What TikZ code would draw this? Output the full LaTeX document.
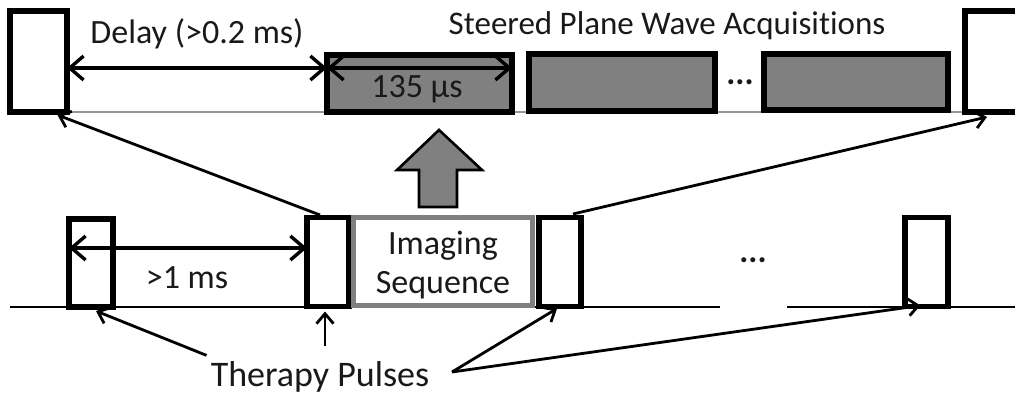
\documentclass[tikz,border=0pt]{standalone}
\usepackage{fontspec}
\setmainfont{Carlito}[Ligatures=NoCommon]
\usetikzlibrary{arrows.meta,calc}

\definecolor{acqgray}{RGB}{128,128,128}
\definecolor{linegray}{RGB}{150,150,150}

\tikzset{
  pulse/.style={draw=black, line width=5.2pt, fill=white, inner sep=0pt, outer sep=0pt},
  acq/.style={draw=black, line width=5.2pt, fill=acqgray, inner sep=0pt, outer sep=0pt},
  imgbox/.style={draw=acqgray, line width=5.2pt, fill=white, inner sep=0pt, outer sep=0pt},
  dim/.style={line width=3.4pt, {Straight Barb[length=14pt,width=24pt,line width=3.4pt]}-{Straight Barb[length=14pt,width=24pt,line width=3.4pt]}},
  pointer/.style={line width=2.8pt, -{Straight Barb[length=10pt,width=17pt,line width=2.8pt]}},
  lbl/.style={inner sep=0pt, align=center, font=\fontsize{34}{40}\selectfont, text=black!90},
}

\begin{document}
\begin{tikzpicture}[x=1pt, y=-1pt]
\useasboundingbox (0,0) rectangle (1015,396);
\clip (0,0) rectangle (1015,396);

% ---- upper time line: one imaging sequence in detail ----
\draw[linegray, line width=2.2pt] (67,112) -- (1015,112);
\node[pulse, minimum width=57pt, minimum height=101pt] (t1) at (38.5,61.5) {};
\node[pulse, minimum width=80pt, minimum height=101pt] (t2) at (1005,61.5) {};
\node[acq, minimum width=185pt, minimum height=57pt] (g1) at (419.5,83.5) {};
\node[acq, minimum width=186pt, minimum height=57pt] (g2) at (622,82.5) {};
\node[acq, minimum width=184pt, minimum height=56pt] (g3) at (856,82) {};
\node[lbl] (dotsup) at (740,82) {\textbf{...}};

\node[lbl] (delaytxt) at (197,34) {Delay (>0.2 ms)};
\node[lbl, font=\fontsize{33}{40}\selectfont] (acqtxt) at (667,26) {Steered Plane Wave Acquisitions};
\node[lbl] (dur) at (417,89) {135 µs};

\draw[dim] (t1.east |- 0,68) -- (g1.west |- 0,68);
\draw[dim] (g1.west |- 0,68) -- (g1.east |- 0,68);

% ---- lower time line: therapy pulses ----
\draw[black, line width=2.4pt] (10,307) -- (720,307);
\draw[black, line width=2.4pt] (787,307) -- (1015,307);
\node[pulse, minimum width=44pt, minimum height=88pt] (pa) at (91,263) {};
\node[pulse, minimum width=42pt, minimum height=89pt] (pb) at (328,262) {};
\node[imgbox, minimum width=179pt, minimum height=88pt] (img) at (443,261.5) {};
\node[lbl] (imgtxt) at (443,265) {Imaging\\[-1pt]Sequence};
\node[pulse, minimum width=42pt, minimum height=89pt] (pc) at (560,262) {};
\node[pulse, minimum width=43pt, minimum height=89pt] (pd) at (926.5,262) {};
\node[lbl] (dotslow) at (753,260) {\textbf{...}};

\draw[dim] (pa.west |- 0,248) -- (pb.west |- 0,248);
\node[lbl] (gaptxt) at (187,278) {>1 ms};

% ---- imaging sequence expanded above ----
\draw[black, line width=2.6pt, fill=acqgray]
  (419,207) -- (419,170) -- (397,170) -- (439,130) -- (482,170) -- (457,170) -- (457,207) -- cycle;

\coordinate (fanL) at (320,215);
\coordinate (fanR) at (573,214);
\draw[pointer] (fanL) -- ($(t1.south)+(19,3)$);
\draw[pointer] (fanR) -- ($(t2.south west)+(22,5)$);

% ---- therapy pulse labels ----
\node[lbl, font=\fontsize{36}{42}\selectfont] (ther) at (320,377) {Therapy Pulses};
\coordinate (therR) at (452,372);
\draw[pointer] ($(ther.north west)+(-4,-6)$) -- ($(pa.south)+(5,4)$);
\draw[pointer] ($(ther.north)+(5,-15)$) -- ($(pb.south)+(-3,5)$);
\draw[pointer] (therR) -- ($(pc.south)+(-3,2)$);
\draw[pointer] (therR) -- ($(pd.south)+(-6,-1)$);
\end{tikzpicture}
\end{document}
